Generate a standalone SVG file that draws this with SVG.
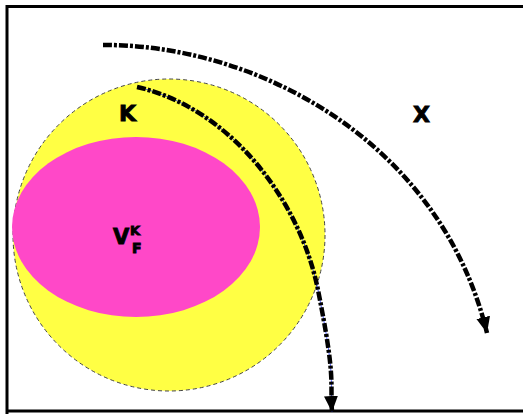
<svg xmlns="http://www.w3.org/2000/svg" width="523" height="414" viewBox="0 0 523 414">
<style>
.lbl{font-family:"DejaVu Sans","Liberation Sans",sans-serif;font-weight:bold;fill:#000;stroke:#000;stroke-width:0.9}
.flow{fill:none;stroke:#000;stroke-width:4.5;stroke-dasharray:9 2 3 2}
</style>
<defs>
<marker id="ah" markerUnits="userSpaceOnUse" markerWidth="18" markerHeight="18" viewBox="0 0 18 18" refX="16" refY="9" orient="auto">
<path d="M0,2 L16,9 L0,16 Z" fill="#000"/>
</marker>
</defs>
<rect width="523" height="414" fill="#fff"/>
<path d="M7,414 L7,6.5 L530,6.5 M7,411 L530,411" fill="none" stroke="#000" stroke-width="3"/>
<g id="K">
<circle cx="169" cy="235" r="156" fill="#ffff44" stroke="#444" stroke-width="1" stroke-dasharray="4 3"/>
<text class="lbl" x="119" y="121" font-size="22">K</text>
</g>
<g id="VFK">
<ellipse cx="136" cy="227" rx="124" ry="90" fill="#ff48c8"/>
<text class="lbl" x="113" y="244" font-size="21">V</text>
<text class="lbl" x="130" y="235" font-size="13">K</text>
<text class="lbl" x="132" y="253" font-size="14">F</text>
</g>
<g id="X">
<text class="lbl" x="413" y="122" font-size="22">X</text>
</g>
<g id="connectors">
<path class="flow" d="M103,45 C255,44 440,140 487,333" marker-end="url(#ah)"/>
<path d="M137,87 C230,108 300,200 318,290 S330,380 332,412" fill="none" stroke="#2233ff" stroke-width="0.8"/>
<path class="flow" d="M137,87 C230,108 300,200 318,290 S330,380 332,412" marker-end="url(#ah)"/>
</g>
</svg>
